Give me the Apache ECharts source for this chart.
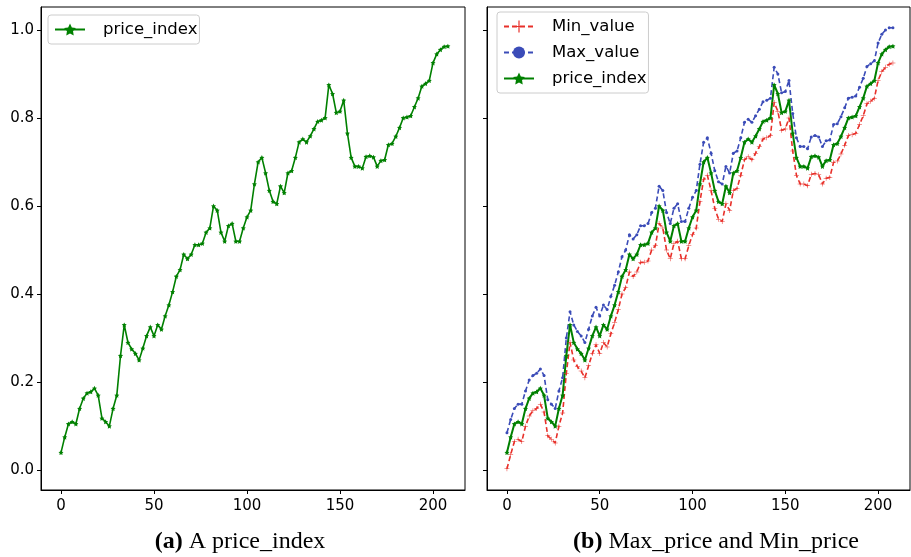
<!DOCTYPE html>
<html>
<head>
<meta charset="utf-8">
<script src="https://cdn.jsdelivr.net/npm/echarts@6/dist/echarts.min.js"></script>
<style>
  html, body { margin: 0; padding: 0; background: #fff; }
  #main { width: 911px; height: 557px; }
</style>
</head>
<body>
<div id="main"></div>
<script>
// 数据: 每隔2个索引取一个点 (0..208)
var step = 2;
var priceIndex = [
  .040, .075, .105, .110, .105, .140, .163, .175, .178, .186,
  .170, .118, .110, .100, .140, .170, .260, .330, .290, .275,
  .265, .250, .277, .305, .325, .305, .330, .320, .350, .375,
  .405, .440, .455, .490, .480, .490, .512, .512, .515, .540,
  .550, .600, .590, .540, .520, .555, .560, .520, .520, .550,
  .575, .590, .650, .700, .710, .675, .635, .610, .605, .645,
  .630, .675, .680, .710, .745, .752, .745, .759, .775, .792,
  .795, .800, .875, .855, .812, .815, .840, .765, .710, .690,
  .690, .686, .712, .714, .711, .690, .703, .705, .739, .742,
  .758, .778, .800, .802, .805, .825, .845, .872, .878, .885,
  .925, .945, .955, .962, .963
];
var maxValue = [
  .085, .115, .140, .150, .150, .180, .205, .215, .220, .230,
  .215, .160, .150, .140, .180, .210, .300, .360, .330, .315,
  .305, .290, .320, .350, .370, .350, .375, .365, .395, .420,
  .450, .485, .500, .535, .525, .535, .555, .555, .560, .585,
  .595, .645, .635, .585, .560, .595, .605, .565, .565, .595,
  .620, .635, .695, .745, .755, .720, .680, .655, .650, .690,
  .675, .720, .725, .755, .790, .797, .790, .805, .820, .837,
  .840, .845, .915, .900, .857, .860, .885, .810, .755, .735,
  .735, .730, .757, .760, .757, .735, .748, .750, .785, .787,
  .803, .823, .845, .847, .850, .870, .890, .917, .923, .930,
  .970, .990, 1.000, 1.005, 1.005
];
var minValue = [
  .003, .035, .065, .070, .065, .100, .123, .135, .140, .150,
  .132, .078, .070, .062, .100, .130, .220, .290, .250, .235,
  .225, .210, .237, .265, .285, .265, .290, .280, .310, .335,
  .365, .400, .415, .450, .440, .450, .472, .472, .475, .500,
  .510, .560, .550, .500, .480, .515, .520, .480, .480, .510,
  .535, .550, .610, .660, .670, .635, .595, .570, .565, .605,
  .590, .635, .640, .670, .705, .712, .705, .720, .735, .752,
  .755, .760, .835, .815, .772, .775, .800, .725, .670, .650,
  .650, .646, .672, .674, .671, .650, .663, .665, .699, .702,
  .718, .738, .760, .762, .765, .785, .805, .832, .838, .845,
  .885, .905, .915, .922, .925
];
var xTicks = [0, 50, 100, 150, 200];
var yTicks = [0, 0.2, 0.4, 0.6, 0.8, 1.0];

function pairs(arr) {
  return arr.map(function (v, i) { return [i * step, v]; });
}

var starPath = 'path://M0,-10L2.9,-4L9.5,-3.1L4.8,1.5L5.9,8.1L0,5L-5.9,8.1L-4.8,1.5L-9.5,-3.1L-2.9,-4Z';
var plusPath = 'path://M-1,-10L1,-10L1,-1L10,-1L10,1L1,1L1,10L-1,10L-1,1L-10,1L-10,-1L-1,-1Z';

var GREEN = '#008000', RED = '#e8302a', BLUE = '#3b4cb8';
var FONT = 'DejaVu Sans';

function xAxisOf(idx) {
  return {
    type: 'value', gridIndex: idx, min: -10.75, max: 217.2,
    splitLine: { show: false },
    axisLine: { onZero: false, lineStyle: { color: '#000', width: 1 } },
    axisTick: { customValues: xTicks, length: 4, lineStyle: { color: '#000' } },
    axisLabel: { customValues: xTicks, color: '#000', fontSize: 15, fontFamily: FONT, margin: 9 }
  };
}
function yAxisOf(idx, showLabel) {
  return {
    type: 'value', gridIndex: idx, min: -0.045, max: 1.052,
    splitLine: { show: false },
    axisLine: { show: true, onZero: false, lineStyle: { color: '#000', width: 1 } },
    axisTick: { show: true, customValues: yTicks, length: 4, lineStyle: { color: '#000' } },
    axisLabel: {
      show: showLabel, customValues: yTicks, color: '#000', fontSize: 15, fontFamily: FONT, margin: 7,
      formatter: function (v) { return v.toFixed(1); }
    }
  };
}

var legendBase = {
  orient: 'vertical',
  backgroundColor: 'rgba(255,255,255,0.8)',
  borderColor: '#cccccc',
  borderWidth: 1,
  borderRadius: 3,
  padding: [6, 2, 6, 6],
  itemWidth: 30,
  itemHeight: 15,
  itemGap: 9,
  textStyle: { fontSize: 16.5, fontFamily: FONT, color: '#000', padding: [0, 6, 0, 13] }
};

var myChart = echarts.init(document.getElementById('main'));
var option = {
  animation: false,
  grid: [
    { left: 41, top: 7, width: 424, height: 483, show: true, borderColor: '#000', borderWidth: 1 },
    { left: 487, top: 7, width: 423, height: 483, show: true, borderColor: '#000', borderWidth: 1 }
  ],
  xAxis: [xAxisOf(0), xAxisOf(1)],
  yAxis: [yAxisOf(0, true), yAxisOf(1, false)],
  legend: [
    Object.assign({}, legendBase, { left: 48, top: 15, data: ['price_index'] }),
    Object.assign({}, legendBase, { left: 497, top: 12, data: ['Min_value', 'Max_value', 'price_index'] })
  ],
  series: [
    {
      name: 'price_index', type: 'line', xAxisIndex: 0, yAxisIndex: 0,
      data: pairs(priceIndex),
      symbol: starPath, symbolSize: 5, showAllSymbol: true,
      lineStyle: { color: GREEN, width: 1.6 },
      itemStyle: { color: GREEN }
    },
    {
      name: 'Min_value', type: 'line', xAxisIndex: 1, yAxisIndex: 1,
      data: pairs(minValue),
      symbol: plusPath, symbolSize: 5, showAllSymbol: true,
      lineStyle: { color: RED, width: 1.6, type: [5, 3] },
      itemStyle: { color: RED }
    },
    {
      name: 'Max_value', type: 'line', xAxisIndex: 1, yAxisIndex: 1,
      data: pairs(maxValue),
      symbol: 'circle', symbolSize: 3, showAllSymbol: true,
      lineStyle: { color: BLUE, width: 1.6, type: [5, 3] },
      itemStyle: { color: BLUE }
    },
    {
      name: 'price_index', type: 'line', xAxisIndex: 1, yAxisIndex: 1,
      data: pairs(priceIndex),
      symbol: starPath, symbolSize: 5, showAllSymbol: true,
      lineStyle: { color: GREEN, width: 2 },
      itemStyle: { color: GREEN }
    }
  ],
  // 图注 (a) (b)
  graphic: [
    {
      type: 'text', x: 240, y: 542,
      style: {
        text: '{b|(a)} A price_index', align: 'center', verticalAlign: 'middle',
        font: '24px "Liberation Serif"', fill: '#000',
        rich: { b: { fontWeight: 'bold', fontSize: 24, fontFamily: 'Liberation Serif' } }
      }
    },
    {
      type: 'text', x: 716, y: 542,
      style: {
        text: '{b|(b)} Max_price and Min_price', align: 'center', verticalAlign: 'middle',
        font: '24px "Liberation Serif"', fill: '#000',
        rich: { b: { fontWeight: 'bold', fontSize: 24, fontFamily: 'Liberation Serif' } }
      }
    }
  ]
};

myChart.setOption(option);
</script>
</body>
</html>
